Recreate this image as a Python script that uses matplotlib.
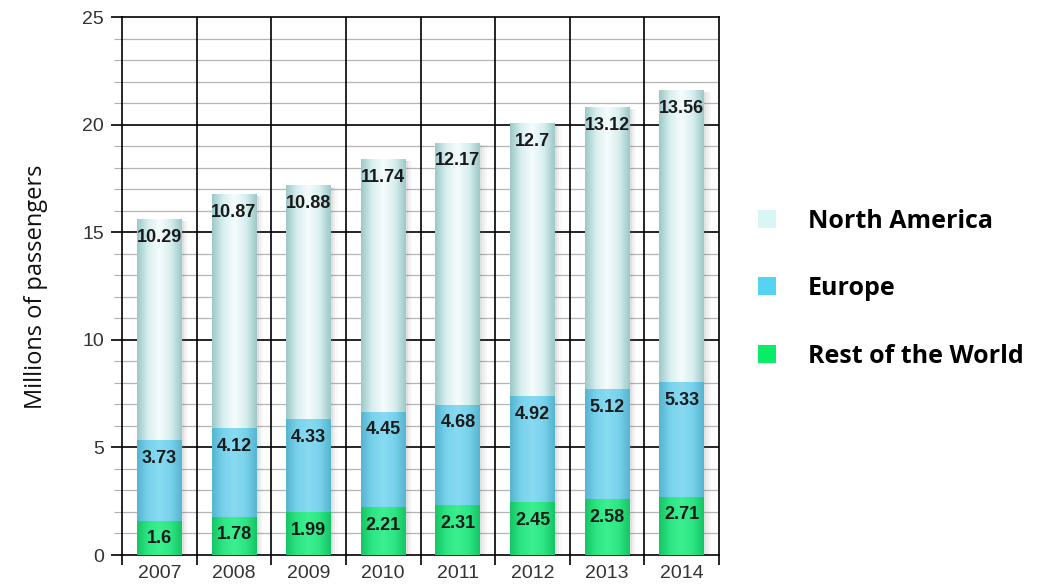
import numpy as np
import matplotlib
matplotlib.use("Agg")
import matplotlib.pyplot as plt
from matplotlib.colors import LinearSegmentedColormap
from matplotlib.patches import Rectangle

years = ["2007", "2008", "2009", "2010", "2011", "2012", "2013", "2014"]
rest_of_world = [1.6, 1.78, 1.99, 2.21, 2.31, 2.45, 2.58, 2.71]
europe = [3.73, 4.12, 4.33, 4.45, 4.68, 4.92, 5.12, 5.33]
north_america = [10.29, 10.87, 10.88, 11.74, 12.17, 12.7, 13.12, 13.56]
series_names = ["North America", "Europe", "Rest of the World"]

W, H = 1051, 584
fig = plt.figure(figsize=(W / 100, H / 100), dpi=100)
ax = fig.add_axes([122 / W, 1 - 555 / H, 597 / W, 538 / H])

x = np.arange(len(years))
width = 0.6

cmaps = {
    "rw": LinearSegmentedColormap.from_list("rw", ["#15c466", "#2de683", "#3cef90", "#2de683", "#15c466"]),
    "eu": LinearSegmentedColormap.from_list("eu", ["#55b4cf", "#78d2ec", "#88daf2", "#78d2ec", "#55b4cf"]),
    "na": LinearSegmentedColormap.from_list("na", ["#9cc8c8", "#d8efef", "#f6fcfc", "#d8efef", "#9cc8c8"]),
}
grad = np.linspace(0, 1, 256).reshape(1, -1)

bottoms2 = np.array(rest_of_world)
bottoms3 = bottoms2 + np.array(europe)
layers = [
    (rest_of_world, np.zeros(len(years)), "rw"),
    (europe, bottoms2, "eu"),
    (north_america, bottoms3, "na"),
]

totals = bottoms3 + np.array(north_america)
for i in range(len(years)):
    for k, a in enumerate([0.10, 0.07, 0.04]):
        ax.add_patch(Rectangle((x[i] - width / 2 + 0.03 + 0.03 * k, 0), width, totals[i] - 0.1,
                               facecolor="#707070", alpha=a, edgecolor="none", zorder=2))

for vals, bots, key in layers:
    bars = ax.bar(x, vals, width, bottom=bots, facecolor="none", edgecolor="none", zorder=3)
    for b in bars:
        x0, y0 = b.get_x(), b.get_y()
        w, h = b.get_width(), b.get_height()
        im = ax.imshow(grad, cmap=cmaps[key], aspect="auto",
                       extent=[x0, x0 + w, y0, y0 + h], zorder=3, interpolation="bicubic")
        im.set_clip_path(b)
    for xi, v, bt in zip(x, vals, bots):
        ax.text(xi, bt + v - 0.85, f"{v:g}", ha="center", va="center", fontsize=13,
                fontweight="bold", color="#1a1a1a", family="Liberation Sans", zorder=5)

ax.set_xlim(-0.5, len(years) - 0.5)
ax.set_ylim(0, 25)
ax.set_yticks(np.arange(0, 26, 5))
ax.set_yticks(np.arange(0, 26, 1), minor=True)
ax.set_xticks(x)
ax.set_xticklabels(years)
ax.set_xticks(np.arange(-0.5, len(years), 1.0), minor=True)
ax.tick_params(axis="x", which="major", length=0, pad=7)
ax.tick_params(axis="x", which="minor", length=7, width=1.2, color="black")
ax.tick_params(axis="y", which="major", length=8, width=1.2, color="black", pad=5)
ax.tick_params(axis="y", which="minor", length=6, width=0.8, color="#b0b0b0")
for lab in ax.get_xticklabels() + ax.get_yticklabels():
    lab.set_fontsize(14)
    lab.set_color("#333333")
    lab.set_family("Liberation Sans")

for yv in range(1, 25):
    if yv % 5:
        ax.axhline(yv, color="#b5b5b5", lw=0.9, zorder=1)
    else:
        ax.axhline(yv, color="black", lw=1.2, zorder=1)
for xv in np.arange(0.5, len(years) - 1, 1.0):
    ax.axvline(xv, color="black", lw=1.2, zorder=1)
for s in ax.spines.values():
    s.set_linewidth(1.2)
    s.set_color("black")

fig.text(36 / W, 1 - 287 / H, "Millions of passengers", rotation=90, ha="center", va="center",
         fontsize=17, family="Open Sans", color="#111111")

# legend (drawn manually at the reference's positions)
leg_colors = ["#d8f6f6", "#55d3f3", "#08ec68"]
rows = [219, 286, 354]
sw = 18
for name, c, ry in zip(series_names, leg_colors, rows):
    fig.patches.append(Rectangle(((767 - sw / 2) / W, 1 - (ry + sw / 2) / H), sw / W, sw / H,
                                 transform=fig.transFigure, facecolor=c, edgecolor="none"))
    fig.text(808 / W, 1 - (ry + 9) / H, name, ha="left", va="baseline", fontsize=18,
             fontweight="bold", family="Open Sans", color="black")

fig.savefig("out.png", dpi=100, facecolor="white")
